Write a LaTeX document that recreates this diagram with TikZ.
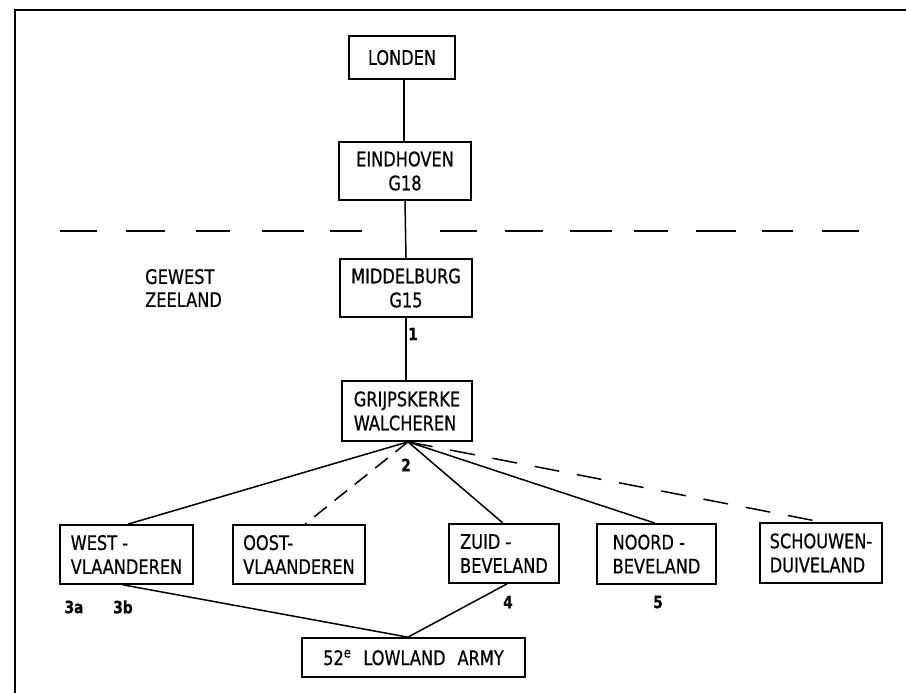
\documentclass[tikz,border=0pt]{standalone}
\usepackage{fontspec}
\setmainfont{DejaVu Sans Condensed}[FakeStretch=0.9, FakeBold=0.6]
\usetikzlibrary{calc}

\begin{document}
\begin{tikzpicture}[x=1pt,y=-1pt,
  box/.style={draw, line width=1.7pt, inner sep=0pt, align=center,
              font=\fontsize{20}{24}\selectfont},
  leftbox/.style={box, align=left},
  link/.style={line width=1.5pt},
  dlink/.style={link, dash pattern=on 16pt off 10pt},
  longdlink/.style={link, dash pattern=on 25pt off 18pt},
  divider/.style={line width=1.7pt},
  frame/.style={line width=2.2pt},
  tag/.style={font=\fontsize{17}{18}\selectfont\bfseries, inner sep=0pt}]
\useasboundingbox (0,0) rectangle (906,693);

% outer frame (top and left edges)
\coordinate (fr-tl) at (15,10);
\coordinate (fr-tr) at (906,10);
\coordinate (fr-bl) at (15,693);
\draw[frame] (fr-tr) -- (fr-tl) -- (fr-bl);

% dashed divider between national and regional level
\foreach \a/\b in {60/97,126/165,196/230,262/304,330/362,440/477,505/543,570/612,634/668,696/736,762/793,822/859}
  \draw[divider] (\a,231) -- (\b,231);

% command chain
\node[box, minimum width=106pt, minimum height=43pt] (londen) at (402,57.5) {LONDEN};
\node[box, minimum width=132pt, minimum height=58pt] (eindhoven) at (405,171) {EINDHOVEN\\G18};
\node[box, minimum width=132pt, minimum height=58pt] (middelburg) at (406,288) {MIDDELBURG\\G15};
\node[leftbox, minimum width=130pt, minimum height=60pt] (grijpskerke) at (407,411) {GRIJPSKERKE\\WALCHEREN};

% region label
\node[anchor=west, align=left, inner sep=0pt, font=\fontsize{20}{23}\selectfont] (gewest) at (145,288) {GEWEST\\ZEELAND};

% districts
\node[leftbox, minimum width=133pt, minimum height=59pt] (west) at (126.5,554.5) {WEST -\\VLAANDEREN};
\node[leftbox, minimum width=132pt, minimum height=59pt] (oost) at (299,554.5) {OOST-\\VLAANDEREN};
\node[leftbox, minimum width=110pt, minimum height=59pt] (zuid) at (504,553.5) {ZUID -\\BEVELAND};
\node[leftbox, minimum width=119pt, minimum height=60pt] (noord) at (656.5,554) {NOORD -\\BEVELAND};
\node[leftbox, minimum width=122pt, minimum height=60pt] (schouwen) at (821,553) {SCHOUWEN-\\DUIVELAND};

% allied army
\node[box, minimum width=223pt, minimum height=39pt] (army) at (413.5,657.5)
  {52\textsuperscript{e}\hspace{0.6em}LOWLAND\hspace{0.6em}ARMY};

% vertical chain
\draw[link] (londen.south) ++(2,0) coordinate (l-s) -- (l-s |- eindhoven.north);
\draw[link] (eindhoven.south) -- (middelburg.north);
\draw[link] (middelburg.south) -- (middelburg.south |- grijpskerke.north);

% fan to the districts
\coordinate (apex) at ([xshift=1pt]grijpskerke.south);
\draw[link] (apex) -- ([xshift=1.5pt]west.north);
\draw[dlink] (apex) -- ([xshift=6pt]oost.north);
\draw[link] (apex) -- ([xshift=-1pt]zuid.north);
\draw[link] (apex) -- ([xshift=-1.5pt]noord.north);
\draw[longdlink] (apex) -- ([xshift=1pt]schouwen.north);

% links to the army
\coordinate (army-top) at ([xshift=-5.5pt]army.north);
\draw[link] ([xshift=-3.5pt]west.south) -- (army-top);
\draw[link] ([xshift=3pt]zuid.south) -- (army-top);

% numbered references
\node[tag] (n1) at (413,334) {1};
\node[tag] (n2) at (406,465) {2};
\node[tag] (n3a) at (74,607) {3a};
\node[tag] (n3b) at (123,607) {3b};
\node[tag] (n4) at (508,602) {4};
\node[tag] (n5) at (658,602) {5};
\end{tikzpicture}
\end{document}
